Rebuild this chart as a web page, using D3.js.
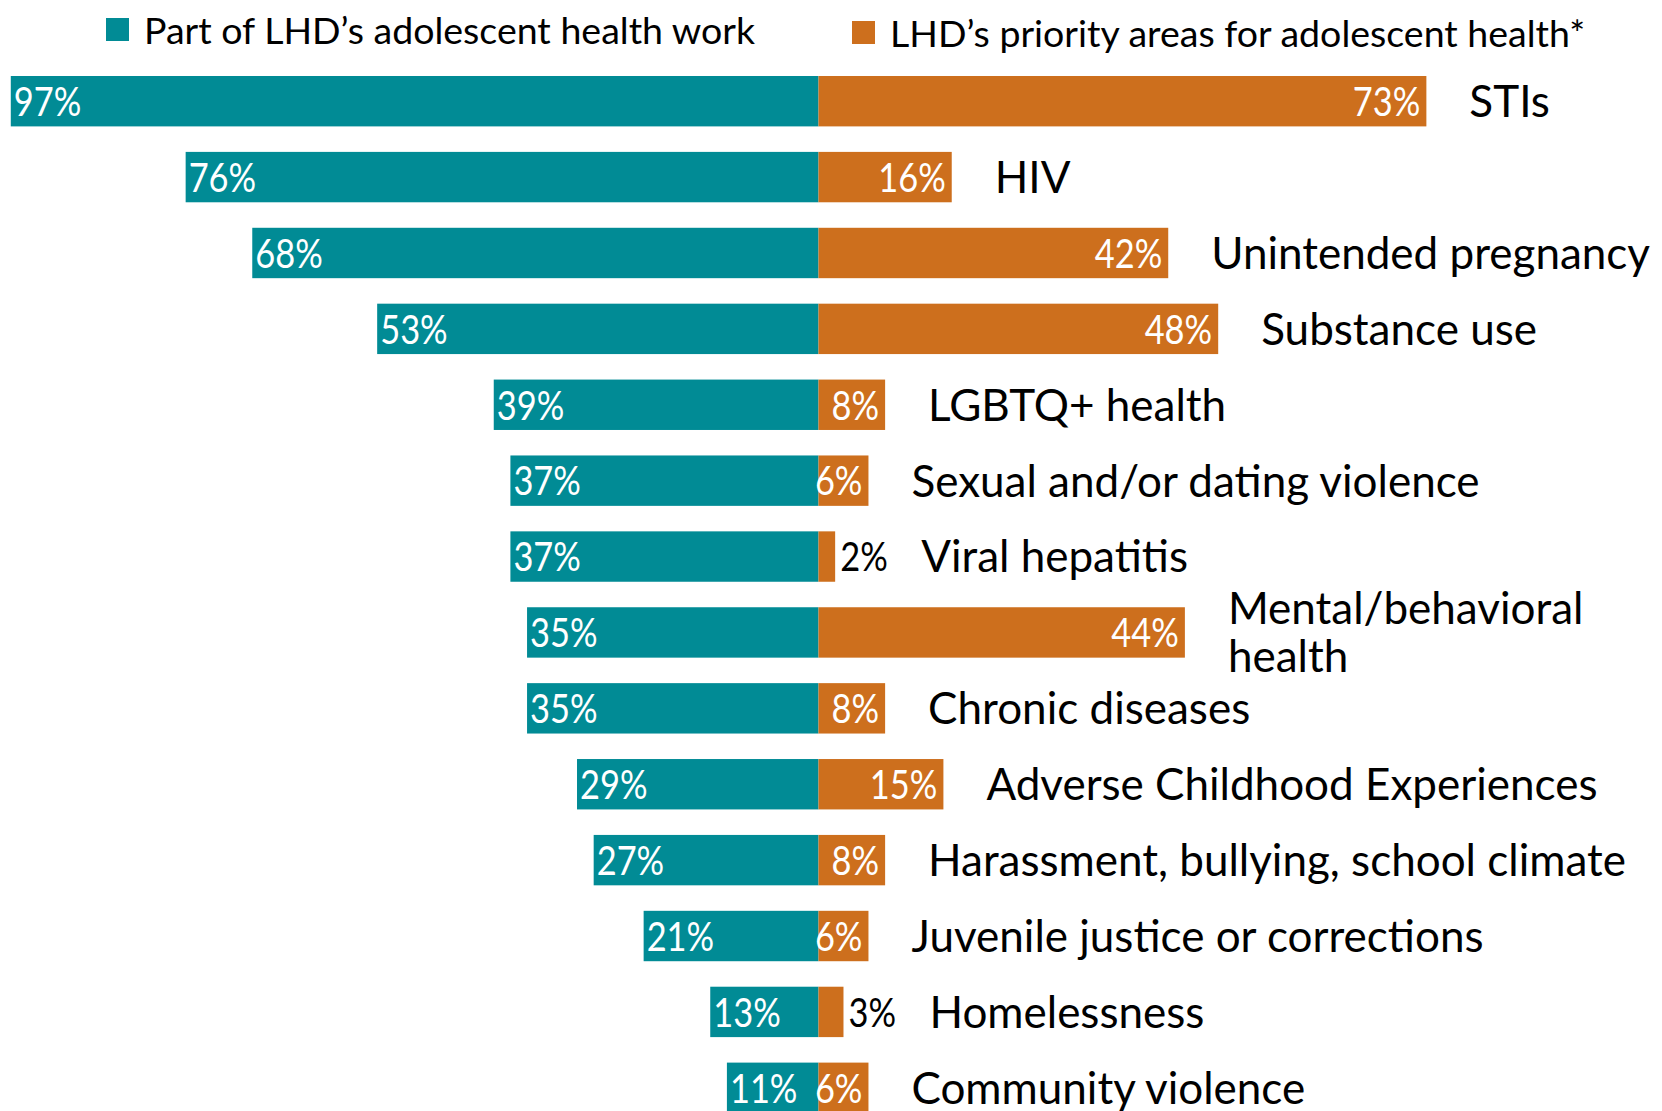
<!DOCTYPE html>
<html>
<head>
<meta charset="utf-8">
<script src="https://cdn.jsdelivr.net/npm/d3@7"></script>
<style>
  html, body { margin: 0; padding: 0; background: #ffffff; }
  svg { display: block; }
  text { font-family: Lato, "Open Sans", sans-serif; }
</style>
</head>
<body>
<svg id="chart" width="1662" height="1111"></svg>
<script>
// Adolescent health topics among local health departments (LHDs)
const categories = [
  "STIs", "HIV", "Unintended pregnancy", "Substance use", "LGBTQ+ health",
  "Sexual and/or dating violence", "Viral hepatitis", "Mental/behavioral health",
  "Chronic diseases", "Adverse Childhood Experiences",
  "Harassment, bullying, school climate", "Juvenile justice or corrections",
  "Homelessness", "Community violence"
];
// Label lines (only Mental/behavioral health wraps)
const categoryLines = [
  ["STIs"], ["HIV"], ["Unintended pregnancy"], ["Substance use"], ["LGBTQ+ health"],
  ["Sexual and/or dating violence"], ["Viral hepatitis"], ["Mental/behavioral", "health"],
  ["Chronic diseases"], ["Adverse Childhood Experiences"],
  ["Harassment, bullying, school climate"], ["Juvenile justice or corrections"],
  ["Homelessness"], ["Community violence"]
];
const workValues     = [97, 76, 68, 53, 39, 37, 37, 35, 35, 29, 27, 21, 13, 11];
const priorityValues = [73, 16, 42, 48, 8, 6, 2, 44, 8, 15, 8, 6, 3, 6];
const seriesNames = ["Part of LHD\u2019s adolescent health work",
                     "LHD\u2019s priority areas for adolescent health*"];

const TEAL = "#018b95";
const ORANGE = "#cd6f1d";

const svg = d3.select("#chart");
const centerX = 818.5;
const pxPerPct = 8.327;

const xLeft = d3.scaleLinear().domain([0, 100]).range([centerX, centerX - 100 * pxPerPct]);
const xRight = d3.scaleLinear().domain([0, 100]).range([centerX, centerX + 100 * pxPerPct]);
const y = d3.scaleBand().domain(categories).range([76, 1113]).paddingInner(0.336).paddingOuter(0);

const rows = categories.map((c, i) => ({
  cat: c, lines: categoryLines[i], work: workValues[i], prio: priorityValues[i]
}));

// Left (teal) bars
svg.append("g").selectAll("rect").data(rows).join("rect")
  .attr("x", d => xLeft(d.work))
  .attr("y", d => y(d.cat))
  .attr("width", d => xLeft(0) - xLeft(d.work))
  .attr("height", y.bandwidth())
  .attr("fill", TEAL);

// Right (orange) bars
svg.append("g").selectAll("rect").data(rows).join("rect")
  .attr("x", xRight(0))
  .attr("y", d => y(d.cat))
  .attr("width", d => xRight(d.prio) - xRight(0))
  .attr("height", y.bandwidth())
  .attr("fill", ORANGE);

// Value labels use a slightly condensed setting of the face
const valueSize = 41;
const squeeze = 0.84;
const smallThreshold = 4;
const midY = d => y(d.cat) + y.bandwidth() / 2;

// Teal value labels, inside the bar start
svg.append("g").selectAll("text").data(rows).join("text")
  .attr("transform", d => `translate(${xLeft(d.work) + 3},${midY(d)}) scale(${squeeze},1)`)
  .attr("dy", "0.36em")
  .attr("fill", "#ffffff")
  .attr("font-size", valueSize)
  .text(d => d.work + "%");

// Orange value labels: inside at the end, or outside when the bar is too short
svg.append("g").selectAll("text").data(rows).join("text")
  .attr("transform", d => {
    const x = d.prio < smallThreshold ? xRight(d.prio) + 5 : xRight(d.prio) - 6;
    return `translate(${x},${midY(d)}) scale(${squeeze},1)`;
  })
  .attr("dy", "0.36em")
  .attr("text-anchor", d => d.prio < smallThreshold ? "start" : "end")
  .attr("fill", d => d.prio < smallThreshold ? "#000000" : "#ffffff")
  .attr("font-size", valueSize)
  .text(d => d.prio + "%");

// Category labels to the right of each row
const catSize = 44;
const labelX = d => xRight(d.prio) + (d.prio < smallThreshold ? 86 : 43);
const cat = svg.append("g").selectAll("text").data(rows).join("text")
  .attr("fill", "#000000")
  .attr("font-size", catSize)
  .attr("x", labelX)
  .attr("y", midY)
  .attr("dy", d => (0.36 - (d.lines.length - 1) * 0.56) + "em");
cat.selectAll("tspan").data(d => d.lines.map((l, i) => ({ l, i, d }))).join("tspan")
  .attr("x", t => labelX(t.d))
  .attr("dy", t => t.i === 0 ? null : "1.1em")
  .text(t => t.l);

// Legend
const legend = svg.append("g");
const legendItems = [
  { name: seriesNames[0], color: TEAL, x: 106, y: 18 },
  { name: seriesNames[1], color: ORANGE, x: 852, y: 21 }
];
const lg = legend.selectAll("g").data(legendItems).join("g")
  .attr("transform", d => `translate(${d.x},${d.y})`);
lg.append("rect").attr("width", 23).attr("height", 23).attr("fill", d => d.color);
lg.append("text")
  .attr("x", 38).attr("y", 12).attr("dy", "0.36em")
  .attr("font-size", 37.5)
  .attr("fill", "#000000")
  .text(d => d.name);
</script>
</body>
</html>
